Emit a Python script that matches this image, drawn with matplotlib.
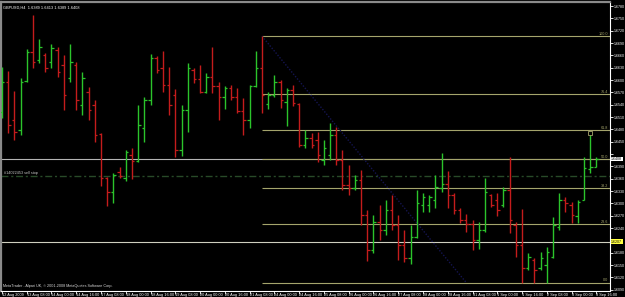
import matplotlib.pyplot as plt
from matplotlib.transforms import blended_transform_factory

plt.rcParams['font.family'] = ['Liberation Sans', 'DejaVu Sans']

symbol = "GBPUSD,H4"

# H4 bars, 12 Aug 2009 16:00 .. 3 Sep 2009 16:00
opens = [1.6523, 1.6595, 1.6503, 1.6479, 1.6598, 1.6668, 1.6649, 1.6661, 1.6644, 1.6673,
         1.6637, 1.6605, 1.6637, 1.6540, 1.6571, 1.6540, 1.6469, 1.6362, 1.6328, 1.6377,
         1.6362, 1.6418, 1.6403, 1.6484, 1.6552, 1.6654, 1.6629, 1.6588, 1.6564, 1.6430,
         1.6527, 1.6625, 1.6603, 1.6571, 1.6608, 1.6586, 1.6559, 1.6581, 1.6559, 1.6525,
         1.6503, 1.6586, 1.6629, 1.6542, 1.6564, 1.6595, 1.6547, 1.6576, 1.6542, 1.6442,
         1.6459, 1.6455, 1.6406, 1.6418, 1.6467, 1.6406, 1.6345, 1.6338, 1.6357, 1.6272,
         1.6187, 1.6255, 1.6236, 1.6284, 1.6248, 1.6199, 1.6168, 1.6219, 1.6297, 1.6297,
         1.6309, 1.6338, 1.6348, 1.6321, 1.6284, 1.6260, 1.6250, 1.6212, 1.6236, 1.6321,
         1.6309, 1.6297, 1.6333, 1.6248, 1.6199, 1.6143, 1.6163, 1.6143, 1.6151, 1.6170,
         1.6243, 1.6309, 1.6297, 1.6270, 1.6309, 1.6384, 1.6389]
highs = [1.6632, 1.6622, 1.6574, 1.6605, 1.6676, 1.6758, 1.6700, 1.6666, 1.6688, 1.6681,
         1.6661, 1.6688, 1.6644, 1.6620, 1.6583, 1.6552, 1.6472, 1.6365, 1.6374, 1.6389,
         1.6430, 1.6435, 1.6540, 1.6559, 1.6663, 1.6659, 1.6671, 1.6632, 1.6578, 1.6540,
         1.6642, 1.6629, 1.6637, 1.6617, 1.6681, 1.6595, 1.6586, 1.6588, 1.6581, 1.6557,
         1.6588, 1.6671, 1.6707, 1.6571, 1.6612, 1.6600, 1.6581, 1.6588, 1.6544, 1.6479,
         1.6472, 1.6474, 1.6455, 1.6496, 1.6486, 1.6430, 1.6394, 1.6369, 1.6382, 1.6284,
         1.6272, 1.6297, 1.6309, 1.6321, 1.6272, 1.6236, 1.6248, 1.6333, 1.6326, 1.6321,
         1.6369, 1.6423, 1.6379, 1.6326, 1.6289, 1.6275, 1.6260, 1.6255, 1.6362, 1.6323,
         1.6326, 1.6340, 1.6413, 1.6255, 1.6287, 1.6180, 1.6168, 1.6182, 1.6195, 1.6267,
         1.6326, 1.6316, 1.6304, 1.6309, 1.6413, 1.6467, 1.6413]
lows = [1.6508, 1.6472, 1.6455, 1.6467, 1.6595, 1.6629, 1.6642, 1.6620, 1.6629, 1.6608,
        1.6527, 1.6595, 1.6527, 1.6515, 1.6503, 1.6450, 1.6343, 1.6294, 1.6301, 1.6362,
        1.6355, 1.6360, 1.6401, 1.6450, 1.6540, 1.6617, 1.6571, 1.6515, 1.6413, 1.6416,
        1.6474, 1.6593, 1.6569, 1.6569, 1.6569, 1.6503, 1.6530, 1.6552, 1.6520, 1.6467,
        1.6484, 1.6583, 1.6520, 1.6530, 1.6559, 1.6532, 1.6489, 1.6537, 1.6437, 1.6435,
        1.6435, 1.6401, 1.6394, 1.6406, 1.6394, 1.6333, 1.6321, 1.6333, 1.6248, 1.6160,
        1.6180, 1.6212, 1.6224, 1.6236, 1.6163, 1.6158, 1.6153, 1.6216, 1.6280, 1.6280,
        1.6289, 1.6328, 1.6289, 1.6275, 1.6253, 1.6231, 1.6187, 1.6190, 1.6231, 1.6292,
        1.6270, 1.6292, 1.6229, 1.6170, 1.6107, 1.6139, 1.6107, 1.6139, 1.6107, 1.6168,
        1.6236, 1.6280, 1.6253, 1.6253, 1.6309, 1.6374, 1.6389]
closes = [1.6595, 1.6491, 1.6474, 1.6595, 1.6668, 1.6644, 1.6681, 1.6629, 1.6678, 1.6620,
          1.6564, 1.6644, 1.6552, 1.6605, 1.6527, 1.6467, 1.6362, 1.6328, 1.6369, 1.6367,
          1.6425, 1.6403, 1.6491, 1.6552, 1.6654, 1.6625, 1.6588, 1.6540, 1.6430, 1.6527,
          1.6629, 1.6603, 1.6571, 1.6608, 1.6586, 1.6559, 1.6581, 1.6559, 1.6525, 1.6503,
          1.6586, 1.6629, 1.6564, 1.6564, 1.6595, 1.6552, 1.6576, 1.6544, 1.6442, 1.6459,
          1.6442, 1.6418, 1.6435, 1.6467, 1.6406, 1.6345, 1.6338, 1.6357, 1.6272, 1.6187,
          1.6255, 1.6236, 1.6284, 1.6248, 1.6199, 1.6168, 1.6219, 1.6301, 1.6316, 1.6316,
          1.6340, 1.6348, 1.6321, 1.6284, 1.6260, 1.6250, 1.6212, 1.6236, 1.6328, 1.6297,
          1.6284, 1.6333, 1.6260, 1.6199, 1.6143, 1.6170, 1.6139, 1.6168, 1.6182, 1.6248,
          1.6309, 1.6301, 1.6272, 1.6304, 1.6386, 1.6389, 1.6408]

time_labels = ["12 Aug 2009", "13 Aug 08:00", "14 Aug 00:00", "14 Aug 16:00", "17 Aug 08:00",
               "18 Aug 00:00", "18 Aug 16:00", "19 Aug 08:00", "20 Aug 00:00", "20 Aug 16:00",
               "21 Aug 08:00", "24 Aug 00:00", "24 Aug 16:00", "25 Aug 08:00", "26 Aug 00:00",
               "26 Aug 16:00", "27 Aug 08:00", "28 Aug 00:00", "28 Aug 16:00", "31 Aug 08:00",
               "1 Sep 00:00", "1 Sep 16:00", "2 Sep 08:00", "3 Sep 00:00", "3 Sep 16:00"]
bars_per_label = 4

price_labels = [1.6090 + 0.0030 * k for k in range(24)]

fib_levels = [0.0, 23.6, 38.2, 50.0, 61.8, 76.4, 100.0]
fib_from_bar = 42
fib_to_bar = 75
hline_price = 1.6207
sell_stop_price = 1.6367
sell_stop_text = "#14022453 sell stop"
copyright_text = "MetaTrader - Alpari UK, \u00a9 2001-2008 MetaQuotes Software Corp."

UP = '#2bc42b'
DOWN = '#c41c1c'
FIB = '#a4a46c'
FS = 2.8

fig = plt.figure(figsize=(6.25, 2.97), dpi=100, facecolor='black')
ax = fig.add_axes([1 / 625, 6.5 / 297, 609 / 625, 288.5 / 297], facecolor='black')
xmax = 98.2
ax.set_xlim(-0.15, xmax)
ax.set_ylim(1.6088, 1.6790)

# horizontal objects first, bars on top
ax.axhline(closes[-1], color='#b4b4b4', lw=0.8, zorder=1)
ax.axhline(hline_price, color='#cfcfbf', lw=0.8, zorder=1)
ax.axhline(sell_stop_price, color='#284a28', lw=1.0, dashes=(5, 2, 1.5, 2), zorder=1)
ax.text(0.4, sell_stop_price + 0.0003, sell_stop_text, color='#c8c8c8', fontsize=2.7,
        va='bottom', ha='left')

hi = highs[fib_from_bar]
lo = min(lows)
for lvl in fib_levels:
    p = lo + (hi - lo) * lvl / 100
    ax.hlines(p, fib_from_bar, xmax, color=FIB, lw=0.8, zorder=1)
    ax.text(xmax - 0.3, p + 0.0001, f"{lvl:.1f}", color=FIB, fontsize=2.7,
            ha='right', va='bottom')
ax.plot([fib_from_bar, fib_to_bar], [hi, lo], color='#141450', lw=1.0, ls=(0, (1, 1.2)), zorder=1)

# OHLC bars
xs = list(range(len(closes)))
cols = [UP if c >= o else DOWN for o, c in zip(opens, closes)]
ax.vlines(xs, lows, highs, colors=cols, lw=1.0, zorder=3)
ax.hlines(opens, [x - 0.4 for x in xs], xs, colors=cols, lw=0.9, zorder=3)
ax.hlines(closes, xs, [x + 0.4 for x in xs], colors=cols, lw=0.9, zorder=3)
ax.plot(95, highs[95] + 0.0005, marker='s', ms=2.2, mfc='none', mec=FIB, mew=0.6, zorder=4)

# axes styling
for side in ('left', 'top'):
    ax.spines[side].set_color('#8a8a8a')
    ax.spines[side].set_linewidth(1.6)
for side in ('right', 'bottom'):
    ax.spines[side].set_color('white')
    ax.spines[side].set_linewidth(0.8)

# price scale; the two marked prices cover their neighbouring grid labels
marked = [closes[-1], hline_price]
ax.yaxis.tick_right()
ax.set_yticks(price_labels)
ax.set_yticklabels(["" if any(abs(p - m) < 0.0013 for m in marked) else f"{p:.4f}"
                    for p in price_labels])
ax.tick_params(axis='y', colors='white', labelsize=2.6, length=1.8, width=0.6, pad=0.8)

ax.set_xticks(range(0, len(closes), bars_per_label))
ax.set_xticklabels(time_labels, ha='left')
ax.tick_params(axis='x', colors='white', labelsize=FS, length=1.8, width=0.6, pad=0.1)

tr = blended_transform_factory(ax.transAxes, ax.transData)
ax.text(1.002, closes[-1], f"{closes[-1]:.4f}", transform=tr, fontsize=2.6, color='black',
        va='center', ha='left', clip_on=False,
        bbox=dict(boxstyle='square,pad=0.12', fc='white', ec='none'))
ax.text(1.002, hline_price, f"{hline_price:.4f}", transform=tr, fontsize=2.6, color='black',
        va='center', ha='left', clip_on=False,
        bbox=dict(boxstyle='square,pad=0.12', fc='#ffff40', ec='none'))

last = len(closes) - 1
title = f"{symbol}  {opens[last]:.4f} {highs[last]:.4f} {lows[last]:.4f} {closes[last]:.4f}"
ax.text(0.004, 0.988, title, transform=ax.transAxes, color='white', fontsize=FS,
        va='top', ha='left')
ax.text(0.003, 0.008, copyright_text, transform=ax.transAxes, color='#d8d8d8', fontsize=2.7,
        va='bottom', ha='left')

fig.savefig('out.png', dpi=100, facecolor='black')
